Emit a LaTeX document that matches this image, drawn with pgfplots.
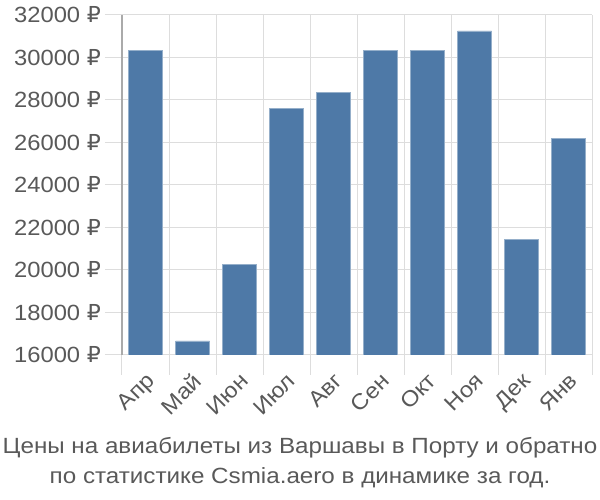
\documentclass[border=0pt]{standalone}
\usepackage{fontspec}
\setmainfont{Liberation Sans}
\newfontfamily\lab[FakeStretch=1.08]{Liberation Sans}
\newfontfamily\tit[FakeStretch=1.1]{Liberation Sans}
\newfontfamily\rub[FakeStretch=1.0]{DejaVu Sans}
\usepackage{pgfplots}
\pgfplotsset{compat=1.18}
\definecolor{barblue}{HTML}{4E79A7}
\definecolor{txt}{HTML}{595959}
\definecolor{gridc}{HTML}{DDDDDD}
\definecolor{axc}{HTML}{AAAAAA}
\newcommand{\R}{{\rub ₽}}
\begin{document}
\begin{tikzpicture}[x=1pt,y=1pt]
\path[use as bounding box] (0,0) rectangle (600,500);
\begin{axis}[
 at={(122pt,145pt)}, anchor=south west,
 width=470pt, height=340pt, scale only axis,
 xmin=-0.5, xmax=9.5, ymin=16000, ymax=32000,
 scaled y ticks=false,
 ytick={16000,18000,...,32000},
 yticklabels={16000 \R,18000 \R,20000 \R,22000 \R,24000 \R,26000 \R,28000 \R,30000 \R,32000 \R},
 xtick={0,...,9},
 xticklabels={Апр,Май,Июн,Июл,Авг,Сен,Окт,Ноя,Дек,Янв},
 minor xtick={-0.5,0.5,...,9.5},
 major x tick style={draw=none},
 xmajorgrids=false, xminorgrids=true, ymajorgrids=true,
 grid style={gridc, line width=1pt},
 minor grid style={gridc, line width=1pt},
 tick align=outside,
 minor tick length=20pt,
 major tick length=17pt,
 ytick style={gridc, line width=1pt},
 minor x tick style={gridc, line width=1pt},
 axis x line*=bottom, axis y line*=left,
 x axis line style={gridc, line width=1pt, -},
 y axis line style={axc, line width=1.2pt, -},
 tick label style={font=\lab\fontsize{22}{26}\selectfont, text=txt},
 xticklabel style={rotate=45, anchor=north east, inner sep=0pt, xshift=0pt, yshift=1pt},
 yticklabel style={inner sep=0pt, xshift=-4pt},
 ybar, bar width=34pt,
]
\addplot[fill=barblue, draw=barblue!60!white, line width=0.6pt] coordinates {(0,30350) (1,16660) (2,20260) (3,27620) (4,28340) (5,30350) (6,30350) (7,31250) (8,21450) (9,26190)};
\end{axis}
\node[align=center, text=txt, font=\tit\fontsize{22}{30}\selectfont] at (300,37) {Цены на авиабилеты из Варшавы в Порту и обратно\\по статистике Csmia.aero в динамике за год.};
\end{tikzpicture}
\end{document}
